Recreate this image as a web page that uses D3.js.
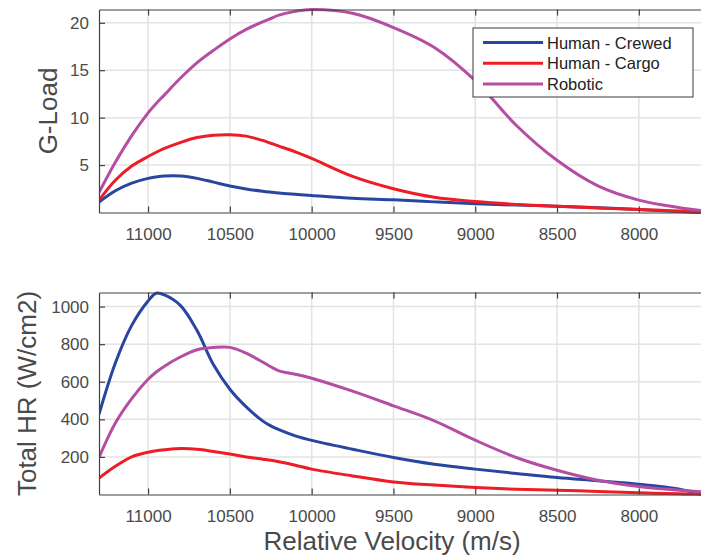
<!DOCTYPE html>
<html>
<head>
<meta charset="utf-8">
<script src="https://cdn.jsdelivr.net/npm/d3@7"></script>
<style>
  body { margin: 0; background: #fff; }
  svg { font-family: "Liberation Sans", Arial, sans-serif; }
</style>
</head>
<body>
<svg id="chart" width="701" height="555"></svg>
<script>
// velocity grid (m/s), shared by all series
const velocity = [11300, 11200, 11100, 11000, 10950, 10900, 10800, 10700, 10600, 10500, 10400, 10300, 10250,
  10200, 10100, 10000, 9750, 9500, 9250, 9000, 8750, 8500, 8250, 8000, 7750, 7620];

const seriesNames = ["Human - Crewed", "Human - Cargo", "Robotic"];
const seriesColors = ["#2846a0", "#ee1c25", "#b54da3"];

// G-Load
const gCrewed = [1.1, 2.3, 3.1, 3.6, 3.75, 3.85, 3.85, 3.6, 3.2, 2.8, 2.48, 2.24, 2.14,
  2.05, 1.92, 1.8, 1.5, 1.34, 1.12, 0.92, 0.78, 0.67, 0.5, 0.32, 0.1, 0.0];
const gCargo = [1.3, 3.4, 4.9, 5.9, 6.35, 6.75, 7.4, 7.9, 8.15, 8.2, 8.05, 7.6, 7.3,
  7.0, 6.4, 5.7, 3.8, 2.5, 1.6, 1.15, 0.85, 0.65, 0.48, 0.32, 0.15, 0.0];
const gRobotic = [2.1, 5.3, 8.1, 10.5, 11.5, 12.4, 14.2, 15.8, 17.1, 18.3, 19.3, 20.1, 20.45,
  20.8, 21.2, 21.4, 21.0, 19.5, 17.4, 13.9, 9.2, 5.5, 2.8, 1.3, 0.5, 0.2];

// Total heat rate (W/cm2)
const hrCrewed = [427, 700, 900, 1030, 1071, 1062, 1004, 871, 690, 560, 466, 392, 365,
  345, 312, 288, 241, 197, 161, 135, 112, 90, 73, 55, 28, 0];
const hrCargo = [87, 150, 200, 225, 233, 238, 245, 241, 229, 215, 200, 188, 182,
  174, 156, 135, 99, 67, 50, 37, 28, 23, 16, 9, 4, 2];
const hrRobotic = [197, 380, 510, 613, 652, 683, 733, 770, 782, 783, 752, 705, 680,
  658, 640, 619, 550, 472, 392, 289, 197, 129, 76, 43, 23, 14];

const xTicks = [11000, 10500, 10000, 9500, 9000, 8500, 8000];
const gTicks = [5, 10, 15, 20];
const hrTicks = [200, 400, 600, 800, 1000];

const svg = d3.select("#chart");
const left = 99, right = 701;
const axisColor = "#404040", gridColor = "#e3e3e3", textColor = "#4a4a4a";

const x = d3.scaleLinear().domain([11300, 7620]).range([left, right]);

svg.append("defs").append("clipPath").attr("id", "clip")
  .append("rect").attr("x", left).attr("y", 0).attr("width", right - left).attr("height", 555);

function panel(top, bottom, yDomain, yTicks, series, title, titleX) {
  const y = d3.scaleLinear().domain(yDomain).range([bottom, top]);
  const g = svg.append("g");

  // grid
  g.append("g").selectAll("line").data(xTicks).join("line")
    .attr("x1", d => x(d)).attr("x2", d => x(d)).attr("y1", top).attr("y2", bottom)
    .attr("stroke", gridColor).attr("stroke-width", 1.5);
  g.append("g").selectAll("line").data(yTicks).join("line")
    .attr("x1", left).attr("x2", right).attr("y1", d => y(d)).attr("y2", d => y(d))
    .attr("stroke", gridColor).attr("stroke-width", 1.5);

  // lines
  const line = d3.line().x((d, i) => x(velocity[i])).y(d => y(d)).curve(d3.curveCatmullRom.alpha(0.5));
  g.append("g").attr("clip-path", "url(#clip)").selectAll("path").data(series).join("path")
    .attr("d", d => line(d))
    .attr("fill", "none")
    .attr("stroke", (d, i) => seriesColors[i])
    .attr("stroke-width", 3)
    .attr("stroke-linejoin", "round");

  // axes (ticks inward)
  const xb = g.append("g").attr("transform", `translate(0,${bottom})`)
    .call(d3.axisBottom(x).tickValues(xTicks).tickSizeInner(-6).tickSizeOuter(0).tickPadding(15).tickFormat(d3.format("d")));
  const xt = g.append("g").attr("transform", `translate(0,${top})`)
    .call(d3.axisTop(x).tickValues(xTicks).tickSizeInner(-6).tickSizeOuter(0).tickFormat(""));
  const yl = g.append("g").attr("transform", `translate(${left},0)`)
    .call(d3.axisLeft(y).tickValues(yTicks).tickSizeInner(-6).tickSizeOuter(0).tickPadding(10).tickFormat(d3.format("d")));
  [xb, xt, yl].forEach(a => {
    a.select(".domain").attr("stroke", axisColor).attr("stroke-width", 1.2);
    a.selectAll(".tick line").attr("stroke", axisColor).attr("stroke-width", 1.2);
    a.selectAll(".tick text").attr("fill", textColor).attr("font-size", 17)
      .attr("font-family", "Liberation Sans, Arial, sans-serif");
  });

  svg.append("text")
    .attr("transform", `translate(${titleX},${(top + bottom) / 2}) rotate(-90)`)
    .attr("text-anchor", "middle")
    .attr("fill", textColor).attr("font-size", 26)
    .text(title);
  return y;
}

panel(9.5, 212.5, [0, 21.4], gTicks, [gCrewed, gCargo, gRobotic], "G-Load", 57);
panel(292.5, 494.5, [0, 1075], hrTicks, [hrCrewed, hrCargo, hrRobotic], "Total HR (W/cm2)", 36);

svg.append("text")
  .attr("x", 392).attr("y", 550)
  .attr("text-anchor", "middle")
  .attr("fill", textColor).attr("font-size", 26)
  .text("Relative Velocity (m/s)");

// legend
const lg = svg.append("g").attr("transform", "translate(473,28)");
lg.append("rect").attr("width", 220).attr("height", 69)
  .attr("fill", "#fff").attr("stroke", "#3a3a3a").attr("stroke-width", 1);
const item = lg.selectAll("g.item").data(seriesNames).join("g").attr("class", "item")
  .attr("transform", (d, i) => `translate(0,${14.5 + i * 20.8})`);
item.append("line").attr("x1", 10).attr("x2", 70)
  .attr("stroke", (d, i) => seriesColors[i]).attr("stroke-width", 3);
item.append("text").attr("x", 74).attr("y", 6)
  .attr("fill", "#222").attr("font-size", 16.5).text(d => d);
</script>
</body>
</html>
